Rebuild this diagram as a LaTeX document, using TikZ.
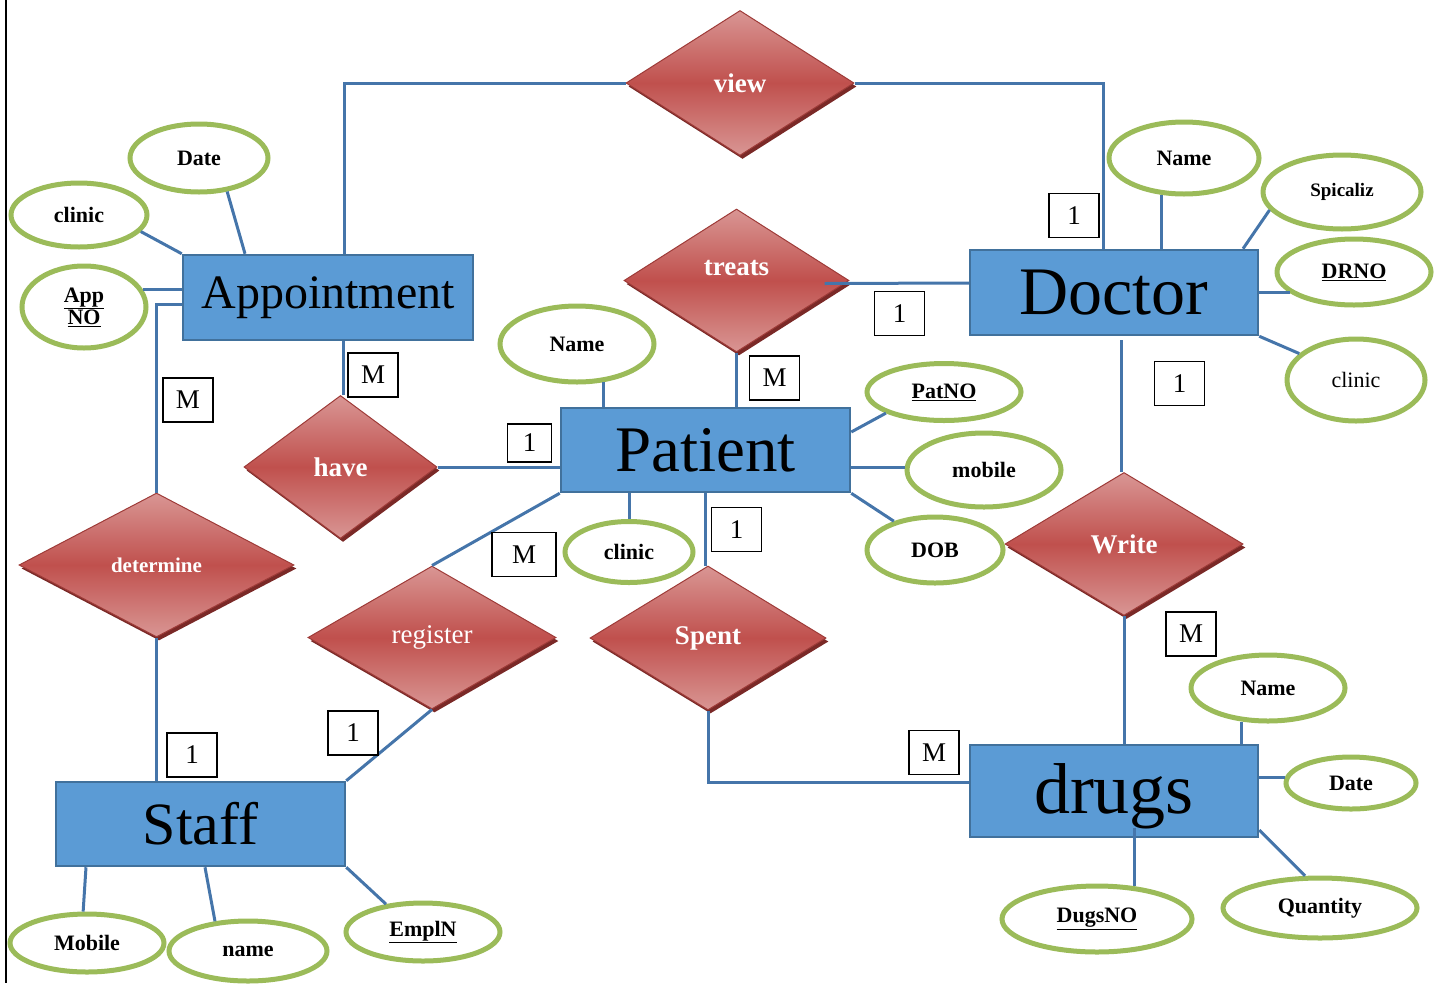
\documentclass[tikz,border=0pt]{standalone}
\usepackage{fontspec}
\setmainfont{Liberation Serif}
\usetikzlibrary{shapes.geometric,shadows,calc}
\definecolor{entfill}{HTML}{5B9BD5}
\definecolor{entdraw}{HTML}{41719C}
\definecolor{conncol}{HTML}{4575AA}
\definecolor{attcol}{HTML}{9BBB59}
\definecolor{relmid}{HTML}{C0504D}
\definecolor{rellight}{HTML}{D99694}
\definecolor{reldraw}{HTML}{9E3B38}
\definecolor{relshadow}{HTML}{7A2927}
\tikzset{
 entity/.style={draw=entdraw, fill=entfill, line width=2.5pt, inner sep=0pt, text=black},
 attr/.style={ellipse, draw=attcol, fill=white, line width=5pt, inner sep=0pt, font=\fontsize{22}{24}\selectfont\bfseries},
 rel/.style={diamond, aspect=1.6, inner sep=0pt, draw=reldraw, line width=1pt, top color=rellight, bottom color=rellight, middle color=relmid, text=white, font=\fontsize{27}{29}\selectfont\bfseries, drop shadow={shadow xshift=2.5pt, shadow yshift=-3.5pt, fill=relshadow, opacity=1}},
 card/.style={draw=black, line width=1.2pt, fill=white, minimum width=50pt, minimum height=44pt, inner sep=0pt, font=\fontsize{27}{29}\selectfont},
 conn/.style={draw=conncol, line width=3pt},
}
\begin{document}
\begin{tikzpicture}[x=1pt,y=-1pt]
\useasboundingbox (0,0) rectangle (1442,983);
\draw[black, line width=2.5pt] (6,0) -- (6,983);

% entities
\node[entity, minimum width=290pt, minimum height=85pt, font=\fontsize{48}{50}\selectfont] (appt) at (328,297.5) {Appointment};
\node[entity, minimum width=288pt, minimum height=85pt, font=\fontsize{68}{70}\selectfont] (doc) at (1114,292.5) {Doctor};
\node[entity, minimum width=289pt, minimum height=84pt, font=\fontsize{65}{67}\selectfont] (pat) at (705.5,450) {Patient};
\node[entity, minimum width=289pt, minimum height=84pt, font=\fontsize{60}{62}\selectfont] (staff) at (200.5,824) {Staff};
\node[entity, minimum width=288pt, minimum height=92pt, font=\fontsize{72}{74}\selectfont, text height=55pt, text depth=10pt] (drugs) at (1114,791) {drugs};

% relationships
\node[rel, minimum width=228pt, minimum height=145pt] (view) at (740,83) {view};
\node[rel, minimum width=225pt, minimum height=143pt, label={[text=white, font=\fontsize{27}{29}\selectfont\bfseries, yshift=12pt]center:treats}] (treats) at (736.5,280.5) {};
\node[rel, minimum width=193pt, minimum height=143pt] (have) at (340.5,467) {have};
\node[rel, minimum width=275pt, minimum height=144pt, font=\fontsize{21}{23}\selectfont\bfseries] (det) at (156.5,565) {determine};
\node[rel, minimum width=248pt, minimum height=143pt, font=\fontsize{27}{29}\selectfont] (reg) at (432,637.5) {register};
\node[rel, minimum width=236pt, minimum height=144pt] (spent) at (708,638) {Spent};
\node[rel, minimum width=238pt, minimum height=143pt] (write) at (1124,544) {Write};

% attributes
\node[attr, minimum width=138pt, minimum height=68pt] (dateA) at (199,158) {Date};
\node[attr, minimum width=136pt, minimum height=64pt] (clinicA) at (79,215) {clinic};
\node[attr, minimum width=124pt, minimum height=82pt, align=center, font=\fontsize{22}{19}\selectfont\bfseries] (appno) at (84,307) {\underline{App}\\\underline{NO}};
\node[attr, minimum width=154pt, minimum height=76pt] (nameP) at (577,344) {Name};
\node[attr, minimum width=154pt, minimum height=57pt] (patno) at (944,392) {\underline{PatNO}};
\node[attr, minimum width=154pt, minimum height=74pt] (mob) at (984,470) {mobile};
\node[attr, minimum width=128pt, minimum height=61pt] (clinicP) at (629,552) {clinic};
\node[attr, minimum width=136pt, minimum height=66pt] (dob) at (935,550) {DOB};
\node[attr, minimum width=150pt, minimum height=72pt] (nameD) at (1184,158) {Name};
\node[attr, minimum width=158pt, minimum height=74pt, font=\fontsize{19}{21}\selectfont\bfseries] (spic) at (1342,192) {Spicaliz};
\node[attr, minimum width=154pt, minimum height=66pt] (drno) at (1354,272) {\underline{DRNO}};
\node[attr, minimum width=138pt, minimum height=82pt, font=\fontsize{22}{24}\selectfont] (clinicD) at (1356,380) {clinic};
\node[attr, minimum width=154pt, minimum height=66pt] (nameG) at (1268,688) {Name};
\node[attr, minimum width=130pt, minimum height=52pt] (dateG) at (1351,783) {Date};
\node[attr, minimum width=190pt, minimum height=66pt] (dugs) at (1097,919) {\underline{DugsNO}};
\node[attr, minimum width=194pt, minimum height=60pt] (qty) at (1320,908) {Quantity};
\node[attr, minimum width=154pt, minimum height=58pt] (mobS) at (87,943) {Mobile};
\node[attr, minimum width=158pt, minimum height=60pt] (nameS) at (248,951) {name};
\node[attr, minimum width=154pt, minimum height=58pt] (empl) at (423,932) {\underline{EmplN}};

% connectors
\draw[conn] (344,0 |- appt.north) |- (view.west);
\draw[conn] (view.east) -| (1103,0 |- doc.north);
\draw[conn] ($(treats.east)+(-25,3)$) -- (doc.west |- 0,283);
\draw[conn] (treats.south) -- (treats.south |- pat.north);
\draw[conn] (nameP.-55) -- (nameP.-55 |- pat.north);
\draw[conn] (343,0 |- appt.south) -- (343,0 |- have.north);
\draw[conn] (have.east) -- (have.east -| pat.west);
\draw[conn] (appno.16) -- (appno.16 -| appt.west);
\draw[conn] (appt.west |- 0,304) -| (det.north);
\draw[conn] (clinicA.-15) -- (appt.north west);
\draw[conn] (dateA.-50) -- (245,0 |- appt.north);
\draw[conn] (det.south) -- (det.south |- staff.north);
\draw[conn] (reg.north) -- (pat.south west);
\draw[conn] (reg.south) -- (staff.north east);
\draw[conn] (clinicP.north |- pat.south) -- (clinicP.north);
\draw[conn] (705,0 |- pat.south) -- (705,0 |- spent.north);
\draw[conn] (spent.south) |- (drugs.west |- 0,782);
\draw[conn] (pat.south east) -- (dob.145);
\draw[conn] (pat.east |- 0,467) -- (mob.west |- 0,467);
\draw[conn] (pat.east |- 0,432) -- (patno.200);
\draw[conn] (nameD.-122) -- (nameD.-122 |- doc.north);
\draw[conn] (spic.194) -- (1243,0 |- doc.north);
\draw[conn] (drno.198) -- (drno.198 -| doc.east);
\draw[conn] (doc.south east) -- (clinicD.155);
\draw[conn] (1121,0 |- 0,340) -- (1121,0 |- write.north);
\draw[conn] (write.south) -- (write.south |- drugs.north);
\draw[conn] (nameG.-128) -- (nameG.-128 |- drugs.north);
\draw[conn] (dateG.175) -- (dateG.175 -| drugs.east);
\draw[conn] (drugs.east |- 0,830) -- (qty.115);
\draw[conn] (dugs.41 |- 0,828) -- (dugs.41);
\draw[conn] (86,0 |- staff.south) -- (mobS.97);
\draw[conn] (205,0 |- staff.south) -- (nameS.138);
\draw[conn] (staff.south east) -- (empl.143);

% cardinalities
\node[card] (c1) at (373,375) {M};
\node[card] (c2) at (188,400) {M};
\node[card, minimum width=44pt, minimum height=38pt] (c3) at (529.5,443) {1};
\node[card] (c4) at (774.5,378) {M};
\node[card] (c5) at (899.5,313.5) {1};
\node[card] (c6) at (1074,215.5) {1};
\node[card] (c7) at (1179.5,383.5) {1};
\node[card, minimum width=64pt] (c8) at (524,554.5) {M};
\node[card] (c9) at (736.5,529.5) {1};
\node[card] (c10) at (1191,634) {M};
\node[card] (c11) at (934,752.5) {M};
\node[card] (c12) at (192,755) {1};
\node[card] (c13) at (353,733) {1};
\end{tikzpicture}
\end{document}
